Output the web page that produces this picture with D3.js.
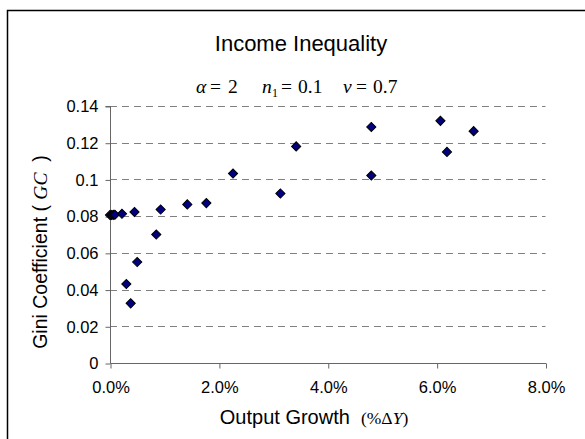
<!DOCTYPE html>
<html>
<head>
<meta charset="utf-8">
<script src="https://cdn.jsdelivr.net/npm/d3@7"></script>
<style>
  html, body { margin: 0; padding: 0; background: #fff; }
  svg { display: block; }
  text { white-space: pre; }
</style>
</head>
<body>
<svg id="chart" width="585" height="439"></svg>
<script>
// ---- data ----
const growth = [0.0000, 0.0003, 0.0006, 0.0009, 0.0022, 0.0045, 0.0030, 0.0038, 0.0050, 0.0085, 0.0093,
                0.0142, 0.0177, 0.0226, 0.0313, 0.0342, 0.0480, 0.0480, 0.0607, 0.0619, 0.0668];
const gini   = [0.0806, 0.0806, 0.0807, 0.0808, 0.0813, 0.0823, 0.0430, 0.0325, 0.0550, 0.0700, 0.0836,
                0.0864, 0.0871, 0.1032, 0.0923, 0.1180, 0.1286, 0.1021, 0.1319, 0.1150, 0.1263];
const xTicks = [0, 0.02, 0.04, 0.06, 0.08];
const yTicks = [0, 0.02, 0.04, 0.06, 0.08, 0.10, 0.12, 0.14];
const yTickLabels = ["0", "0.02", "0.04", "0.06", "0.08", "0.1", "0.12", "0.14"];

const svg = d3.select("#chart");
const sans = "Arial, 'Liberation Sans', sans-serif";
const serif = "'Times New Roman', 'Liberation Serif', serif";

// frame
svg.append("rect").attr("x", 7.5).attr("y", 10.5).attr("width", 600).attr("height", 450)
  .attr("fill", "#fff").attr("stroke", "#000").attr("stroke-width", 1.5);

const x = d3.scaleLinear().domain([0, 0.08]).range([110, 545.5]);
const y = d3.scaleLinear().domain([0, 0.14]).range([363, 106]);

// gridlines
svg.append("g").selectAll("line").data(yTicks.filter(d => d > 0)).join("line")
  .attr("x1", x(0)).attr("x2", x(0.08))
  .attr("y1", d => Math.round(y(d)) + 0.5).attr("y2", d => Math.round(y(d)) + 0.5)
  .attr("stroke", "#808080").attr("stroke-width", 1.2).attr("stroke-dasharray", "7,5");

// y axis
const yAxis = d3.axisLeft(y).tickValues(yTicks).tickSize(5).tickPadding(7)
  .tickFormat((d, i) => yTickLabels[i]);
const gy = svg.append("g").attr("transform", `translate(${x(0) + 0.5},0.5)`).call(yAxis);
gy.select(".domain").attr("stroke", "#666").attr("d", `M-5,${y(0.14)}H0V${y(0)}`);
gy.selectAll(".tick line").attr("stroke", "#666");
gy.selectAll(".tick text").attr("font-family", sans).attr("font-size", 16.5).attr("fill", "#000");

// x axis
const xAxis = d3.axisBottom(x).tickValues(xTicks).tickSize(5).tickPadding(13)
  .tickFormat(d3.format(".1%"));
const gx = svg.append("g").attr("transform", `translate(0.5,${Math.round(y(0)) + 0.5})`).call(xAxis);
gx.select(".domain").attr("stroke", "#666").attr("d", `M${x(0)},0H${x(0.08)}`);
gx.selectAll(".tick line").attr("stroke", "#666");
gx.selectAll(".tick text").attr("font-family", sans).attr("font-size", 16.5).attr("fill", "#000");

// points
const pts = growth.map((g, i) => ({ g, v: gini[i] }));
svg.append("g").selectAll("path").data(pts).join("path")
  .attr("d", d3.symbol().type(d3.symbolSquare).size(42)())
  .attr("transform", d => `translate(${x(d.g)},${y(d.v)}) rotate(45)`)
  .attr("fill", "#000080").attr("stroke", "#000").attr("stroke-width", 1);

// title
svg.append("text").attr("x", 301).attr("y", 51).attr("text-anchor", "middle")
  .attr("font-family", sans).attr("font-size", 22).text("Income Inequality");

// subtitle (math)
const sub = svg.append("text").attr("y", 93).attr("font-family", serif).attr("font-size", 19.5);
sub.append("tspan").attr("x", 196).attr("font-style", "italic").text("α");
sub.append("tspan").attr("x", 210).text("=");
sub.append("tspan").attr("x", 228).text("2");
sub.append("tspan").attr("x", 262).attr("font-style", "italic").text("n");
sub.append("tspan").attr("x", 272).attr("font-size", 12).attr("dy", 4).text("1");
sub.append("tspan").attr("x", 281).attr("dy", -4).text("=");
sub.append("tspan").attr("x", 298).text("0.1");
sub.append("tspan").attr("x", 343).attr("font-style", "italic").text("ν");
sub.append("tspan").attr("x", 356).text("=");
sub.append("tspan").attr("x", 373).text("0.7");

// y label
const yl = svg.append("text").attr("transform", "translate(47,252) rotate(-90)")
  .attr("text-anchor", "middle").attr("font-family", sans).attr("font-size", 19.5);
yl.append("tspan").text("Gini Coefficient ( ");
yl.append("tspan").attr("font-family", serif).attr("font-style", "italic").text("GC");
yl.append("tspan").text("  )");

// x label
const xl = svg.append("text").attr("x", 314).attr("y", 424).attr("text-anchor", "middle")
  .attr("font-family", sans).attr("font-size", 20);
xl.append("tspan").text("Output Growth  ");
xl.append("tspan").attr("font-family", serif).attr("font-size", 17.5).text("(%Δ");
xl.append("tspan").attr("font-family", serif).attr("font-size", 17.5).attr("font-style", "italic").text("Y");
xl.append("tspan").attr("font-family", serif).attr("font-size", 17.5).text(")");
</script>
</body>
</html>
